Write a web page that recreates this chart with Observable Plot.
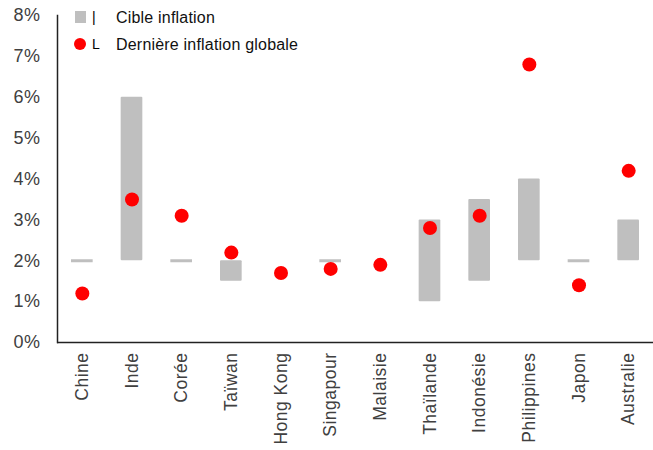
<!DOCTYPE html>
<html>
<head>
<meta charset="utf-8">
<script src="https://cdn.jsdelivr.net/npm/d3@7"></script>
<script src="https://cdn.jsdelivr.net/npm/@observablehq/plot@0.6"></script>
<style>
  body { margin: 0; background: #fff; font-family: "Liberation Sans", Arial, sans-serif; }
  #wrap { position: relative; width: 653px; height: 450px; }
  .leg { position: absolute; font-size: 16px; color: #111; line-height: 1; letter-spacing: 0.2px; }
  .sq { position: absolute; left: 75px; top: 11px; width: 11px; height: 12px; background: #bfbfbf; }
  .dot { position: absolute; left: 74px; top: 38px; width: 12px; height: 12px; border-radius: 50%; background: #ff0000; }
  .glyph { position: absolute; font-size: 14px; color: #000; font-weight: 300; }
</style>
</head>
<body>
<div id="wrap">
  <div id="chart"></div>
  <div class="sq"></div>
  <div class="glyph" style="left:92px; top:9px;">|</div>
  <div class="leg" style="left:116px; top:10px;">Cible inflation</div>
  <div class="dot"></div>
  <div class="glyph" style="left:92px; top:36px;">L</div>
  <div class="leg" style="left:116px; top:37px;">Dernière inflation globale</div>
</div>
<script>
const categories = ["Chine","Inde","Corée","Taïwan","Hong Kong","Singapour","Malaisie","Thaïlande","Indonésie","Philippines","Japon","Australie"];
const targetLow  = [2, 2, 2, 1.5, null, 2, null, 1, 1.5, 2, 2, 2];
const targetHigh = [2, 6, 2, 2,   null, 2, null, 3, 3.5, 4, 2, 3];
const latest     = [1.2, 3.5, 3.1, 2.2, 1.7, 1.8, 1.9, 2.8, 3.1, 6.8, 1.4, 4.2];
const yTicks = [0,1,2,3,4,5,6,7,8];

const rows = categories.map((c, i) => ({cat: c, lo: targetLow[i], hi: targetHigh[i], v: latest[i]}));
const ranges = rows.filter(d => d.lo != null && d.hi > d.lo);
const points = rows.filter(d => d.lo != null && d.hi === d.lo);

const chart = Plot.plot({
  width: 653,
  height: 450,
  marginLeft: 57,
  marginRight: 0,
  marginTop: 15,
  marginBottom: 108,
  style: {fontFamily: '"Liberation Sans", Arial, sans-serif', background: "#fff", letterSpacing: "0.5px"},
  x: {domain: categories, padding: 0, round: false, label: null},
  y: {domain: [0, 8], label: null},
  marks: [
    Plot.axisY({ticks: yTicks, tickSize: 0, tickPadding: 17, tickFormat: d => d + "%", fontSize: 18, fill: "#404040"}),
    Plot.axisX({tickSize: 0, tickPadding: 10, tickRotate: -90, fontSize: 17.5, fill: "#404040"}),
    Plot.barY(ranges, {x: "cat", y1: "lo", y2: "hi", fill: "#bfbfbf", insetLeft: 14, insetRight: 14, rx: 1}),
    Plot.tickY(points, {x: "cat", y: "lo", stroke: "#bfbfbf", strokeWidth: 3, insetLeft: 14, insetRight: 14}),
    Plot.dot(rows, {x: "cat", y: "v", r: 7, fill: "#ff0000"}),
    Plot.ruleY([0], {stroke: "#222", strokeWidth: 1.5}),
    Plot.frame({anchor: "left", stroke: "#222", strokeWidth: 1.5})
  ]
});
document.getElementById("chart").appendChild(chart);
</script>
</body>
</html>
